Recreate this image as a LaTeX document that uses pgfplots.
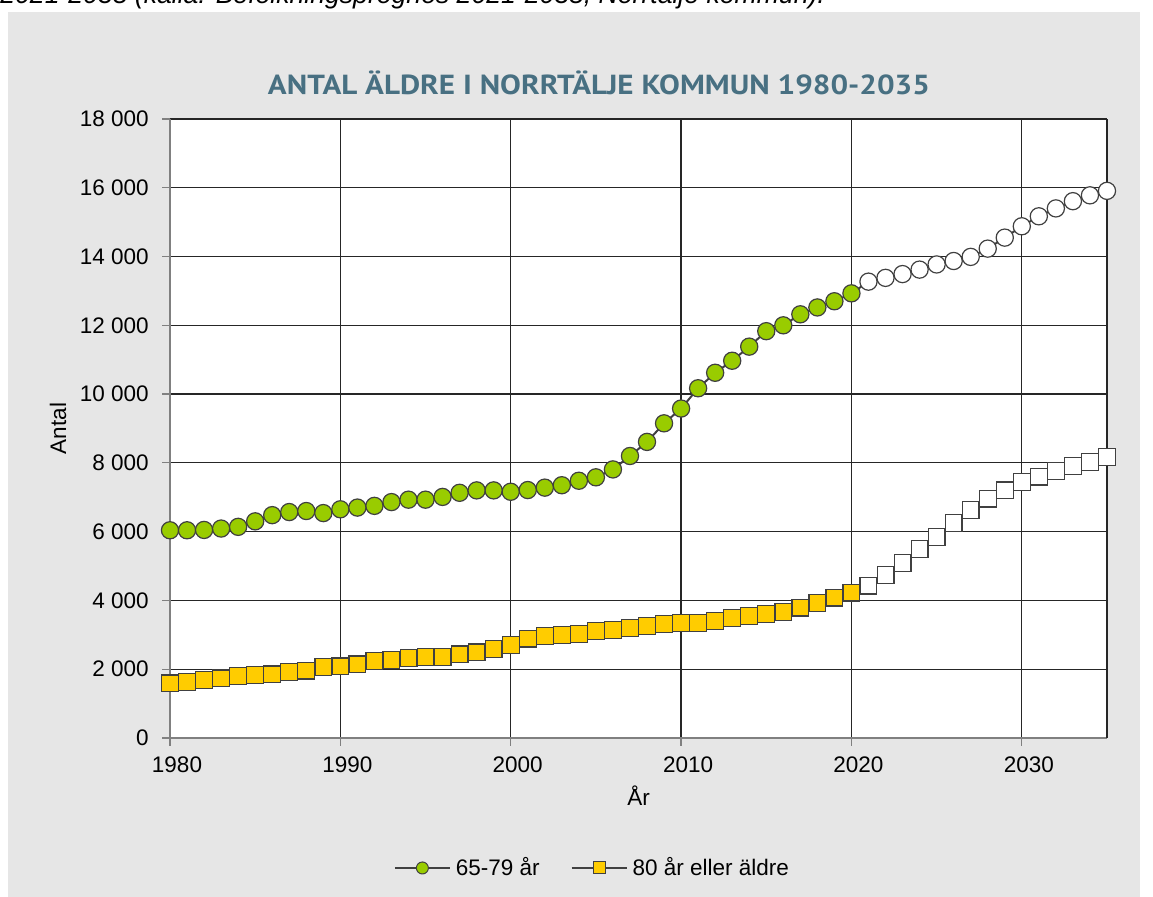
\documentclass[border=0pt]{standalone}
\usepackage{pgfplots}
\pgfplotsset{compat=1.18}
\usepackage{pgfplotstable}
\usepackage{graphicx}
\usepackage{fontspec}
\setmainfont{Liberation Sans}
\newfontfamily\titlefont{PT Sans}
\definecolor{bg}{RGB}{230,230,230}
\definecolor{titlec}{RGB}{72,112,130}
\definecolor{grn}{RGB}{153,204,0}
\definecolor{ylw}{RGB}{255,204,0}
\definecolor{edge}{RGB}{64,64,64}
\definecolor{axgray}{RGB}{128,128,128}
\definecolor{gridc}{RGB}{38,38,38}

\pgfplotstableread{
year a b
1980 6040 1590
1981 6040 1630
1982 6050 1690
1983 6090 1730
1984 6140 1800
1985 6300 1830
1986 6480 1850
1987 6570 1920
1988 6600 1960
1989 6540 2060
1990 6650 2080
1991 6700 2140
1992 6750 2240
1993 6860 2260
1994 6930 2330
1995 6930 2360
1996 7010 2360
1997 7130 2430
1998 7200 2490
1999 7200 2580
2000 7160 2710
2001 7210 2890
2002 7280 2960
2003 7350 2990
2004 7480 3020
2005 7580 3110
2006 7810 3140
2007 8200 3190
2008 8610 3260
2009 9150 3310
2010 9580 3350
2011 10170 3350
2012 10620 3410
2013 10970 3490
2014 11380 3550
2015 11830 3610
2016 12000 3660
2017 12320 3790
2018 12520 3930
2019 12700 4080
2020 12930 4230
2021 13270 4430
2022 13380 4740
2023 13490 5080
2024 13620 5490
2025 13770 5840
2026 13870 6260
2027 13990 6630
2028 14230 6960
2029 14550 7200
2030 14880 7440
2031 15170 7600
2032 15400 7760
2033 15610 7910
2034 15780 8030
2035 15910 8170
}\data

\begin{document}
\begin{tikzpicture}
\clip (0pt,0pt) rectangle (576.5pt,448.5pt);
\fill[bg] (4pt,0pt) rectangle (570pt,442.5pt);
\node[anchor=base west, inner sep=0pt] at (0pt,446.5pt) {\fontsize{13.3pt}{16pt}\selectfont\itshape 2021-2035 (källa: Befolkningsprognos 2021-2035, Norrtälje kommun).};
\node[anchor=base, inner sep=0pt, text=titlec] at (299.5pt,401pt) {\resizebox{331pt}{\height}{\titlefont\bfseries\fontsize{13.8pt}{16pt}\selectfont ANTAL ÄLDRE I NORRTÄLJE KOMMUN 1980-2035}};
\begin{axis}[
  at={(85pt,79.5pt)}, anchor=south west,
  width=468.5pt, height=309.5pt, scale only axis,
  xmin=1980, xmax=2035, ymin=0, ymax=18000,
  xtick={1980,1990,2000,2010,2020,2030},
  xticklabels={1980,1990,2000,2010,2020,2030},
  extra x ticks={2035}, extra x tick labels={},
  extra x tick style={major tick length=0pt, grid=major},
  ytick={0,2000,4000,6000,8000,10000,12000,14000,16000,18000},
  yticklabels={0,2 000,4 000,6 000,8 000,10 000,12 000,14 000,16 000,18 000},
  scaled y ticks=false, scaled x ticks=false,
  axis x line*=bottom, axis y line*=left,
  axis line style={-, axgray, line width=1pt},
  tick align=outside, major tick length=4pt,
  every tick/.style={axgray, line width=0.6pt},
  grid=major, major grid style={gridc, line width=0.6pt},
  axis background/.style={fill=white},
  tick label style={font=\fontsize{11.25pt}{13pt}\selectfont, text=black},
  yticklabel style={anchor=east, inner sep=0pt, xshift=-6.5pt},
  xticklabel style={anchor=north, inner sep=0pt, xshift=3.5pt, yshift=-5pt},
  clip=false,
  legend style={at={(0.4498,-0.210)}, anchor=center, draw=none, fill=none,
    font=\fontsize{11.25pt}{13pt}\selectfont, legend columns=2,
    nodes={inner sep=0pt}, cells={anchor=west},
    /tikz/every odd column/.append style={column sep=2.5pt},
    /tikz/every even column/.append style={column sep=15.5pt}},
]
\addplot[edge, line width=1pt, forget plot] table[x=year,y=a]{\data};
\addplot[edge, line width=1pt, forget plot] table[x=year,y=b]{\data};
\addplot[only marks, mark=*, mark size=4.3pt, mark options={fill=grn, draw=edge, line width=0.6pt}, restrict x to domain=1980:2020, forget plot] table[x=year,y=a]{\data};
\addplot[only marks, mark=*, mark size=4.3pt, mark options={fill=white, draw=edge, line width=0.6pt}, restrict x to domain=2021:2035, forget plot] table[x=year,y=a]{\data};
\addplot[only marks, mark=square*, mark size=4.2pt, mark options={fill=ylw, draw=edge, line width=0.6pt}, restrict x to domain=1980:2020, forget plot] table[x=year,y=b]{\data};
\addplot[only marks, mark=square*, mark size=4.2pt, mark options={fill=white, draw=edge, line width=0.6pt}, restrict x to domain=2021:2035, forget plot] table[x=year,y=b]{\data};
\addlegendimage{legend image code/.code={\draw[edge, line width=1pt] (0pt,0pt) -- (27.5pt,0pt); \filldraw[fill=grn, draw=edge, line width=0.5pt] (13.75pt,0pt) circle (3pt);}}
\addlegendentry{65-79 år}
\addlegendimage{legend image code/.code={\draw[edge, line width=1pt] (0pt,0pt) -- (27.5pt,0pt); \filldraw[fill=ylw, draw=edge, line width=0.5pt] (10.75pt,-3pt) rectangle (16.75pt,3pt);}}
\addlegendentry{80 år eller äldre}
\end{axis}
\node[anchor=base, inner sep=0pt] at (319.25pt,45.5pt) {\fontsize{11.25pt}{13pt}\selectfont År};
\node[rotate=90, anchor=base, inner sep=0pt] at (33pt,234.25pt) {\fontsize{11.25pt}{13pt}\selectfont Antal};
\end{tikzpicture}
\end{document}
